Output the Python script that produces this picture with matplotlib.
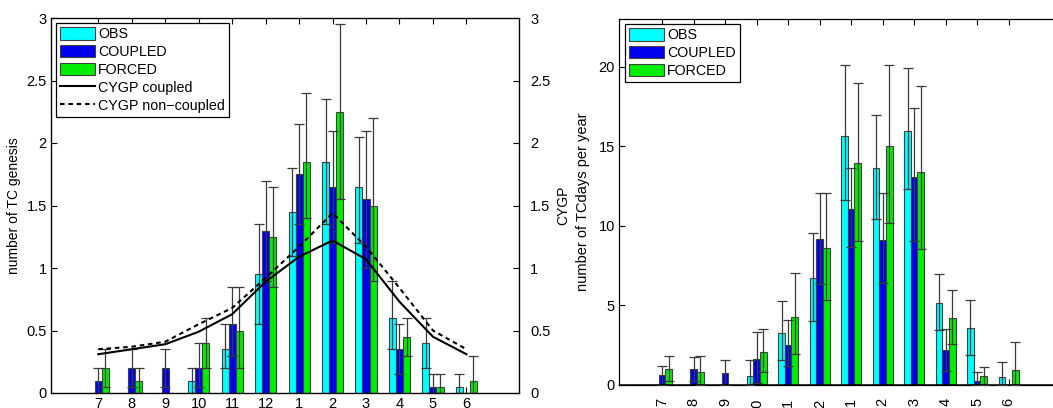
import numpy as np
import matplotlib
matplotlib.use("Agg")
import matplotlib.pyplot as plt

plt.rcParams['font.family'] = ['Liberation Sans', 'DejaVu Sans']
plt.rcParams['font.size'] = 10

months = ['7', '8', '9', '10', '11', '12', '1', '2', '3', '4', '5', '6']

# --- TC genesis (left panel) ---
gen_obs = [0, 0, 0, 0.1, 0.35, 0.95, 1.45, 1.85, 1.65, 0.6, 0.4, 0.05]
gen_obs_lo = [np.nan, np.nan, np.nan, 0.0, 0.2, 0.55, 1.1, 1.35, 1.2, 0.35, 0.2, 0.0]
gen_obs_hi = [np.nan, np.nan, np.nan, 0.2, 0.55, 1.35, 1.8, 2.35, 2.05, 0.9, 0.6, 0.15]

gen_cpl = [0.1, 0.2, 0.2, 0.2, 0.55, 1.3, 1.75, 1.65, 1.55, 0.35, 0.05, 0]
gen_cpl_lo = [0.0, 0.05, 0.05, 0.05, 0.3, 0.9, 1.35, 1.2, 1.0, 0.15, 0.0, np.nan]
gen_cpl_hi = [0.2, 0.35, 0.35, 0.4, 0.85, 1.7, 2.15, 2.1, 2.1, 0.55, 0.15, np.nan]

gen_frc = [0.2, 0.1, 0, 0.4, 0.5, 1.25, 1.85, 2.25, 1.5, 0.45, 0.05, 0.1]
gen_frc_lo = [0.05, 0.0, np.nan, 0.2, 0.2, 0.85, 1.4, 1.55, 0.9, 0.3, 0.0, 0.0]
gen_frc_hi = [0.35, 0.2, np.nan, 0.6, 0.85, 1.65, 2.4, 2.95, 2.2, 0.6, 0.15, 0.3]

cygp_coupled = [0.31, 0.35, 0.39, 0.49, 0.63, 0.89, 1.09, 1.22, 1.07, 0.73, 0.45, 0.31]
cygp_noncoupled = [0.35, 0.37, 0.41, 0.55, 0.68, 0.92, 1.17, 1.44, 1.17, 0.84, 0.50, 0.35]

# --- TC days (right panel) ---
days_obs = [0, 0, 0, 0.56, 3.28, 6.75, 15.65, 13.65, 15.97, 5.18, 3.57, 0.48]
days_obs_lo = [np.nan, np.nan, np.nan, 0.0, 1.6, 4.03, 11.64, 10.43, 12.33, 3.45, 1.88, 0.0]
days_obs_hi = [np.nan, np.nan, np.nan, 1.57, 5.29, 9.57, 20.1, 16.99, 19.94, 7.0, 5.37, 1.42]

days_cpl = [0.61, 1.0, 0.75, 1.61, 2.5, 9.17, 11.08, 9.13, 13.08, 2.17, 0.27, 0]
days_cpl_lo = [0.0, 0.27, 0.0, 0.15, 1.2, 6.37, 8.67, 6.44, 9.05, 0.9, 0.0, np.nan]
days_cpl_hi = [1.19, 1.76, 1.57, 3.32, 4.1, 12.08, 13.63, 12.08, 17.43, 3.49, 0.84, np.nan]

days_frc = [1.0, 0.84, 0, 2.05, 4.28, 8.59, 13.96, 15.03, 13.38, 4.18, 0.56, 0.92]
days_frc_lo = [0.27, 0.0, np.nan, 0.84, 1.94, 5.37, 9.03, 10.2, 8.53, 2.59, 0.0, 0.0]
days_frc_hi = [1.82, 1.84, np.nan, 3.51, 7.04, 12.08, 18.95, 20.1, 18.81, 6.0, 1.15, 2.72]

series_names = ['OBS', 'COUPLED', 'FORCED']
colors = ['#00ffff', '#0000ee', '#00ee00']
edge = '#404040'
errc = '#3a3a3a'

W, H = 1053, 408
fig = plt.figure(figsize=(W / 100, H / 100), dpi=100)

ax1 = fig.add_axes([51 / W, (H - 393) / H, (519 - 51) / W, (393 - 18) / H])
ax2 = fig.add_axes([619 / W, (H - 385) / H, (1059 - 619) / W, (385 - 19) / H])

x = np.arange(1, len(months) + 1)
bw = 0.21
offs = [-bw, 0, bw]


def draw_bars(ax, vals, los, his):
    handles = []
    for i, (v, lo, hi) in enumerate(zip(vals, los, his)):
        v = np.asarray(v, float)
        lo = np.asarray(lo, float)
        hi = np.asarray(hi, float)
        h = ax.bar(x + offs[i], v, width=bw, color=colors[i], edgecolor=edge,
                   linewidth=0.8, label=series_names[i], zorder=2)
        handles.append(h)
        m = ~np.isnan(hi)
        ax.errorbar(x[m] + offs[i], v[m], yerr=[v[m] - lo[m], hi[m] - v[m]],
                    fmt='none', ecolor=errc, elinewidth=0.9, capsize=3.3,
                    capthick=0.9, zorder=3)
    return handles


def style(ax):
    ax.tick_params(direction='in', length=4, width=0.8, top=True,
                   labelsize=10.5, pad=3)
    for s in ax.spines.values():
        s.set_linewidth(0.9)


# Left panel
hb = draw_bars(ax1, [gen_obs, gen_cpl, gen_frc],
               [gen_obs_lo, gen_cpl_lo, gen_frc_lo],
               [gen_obs_hi, gen_cpl_hi, gen_frc_hi])
ax1.set_xlim(-0.41, 13.57)
ax1.set_ylim(0, 3)
ax1.set_xticks(x)
ax1.set_xticklabels(months)
ax1.set_yticks(np.arange(0, 3.01, 0.5))
ax1.set_yticklabels(['0', '0.5', '1', '1.5', '2', '2.5', '3'])
ax1.set_ylabel('number of TC genesis', labelpad=4)
style(ax1)

ax1b = ax1.twinx()
ax1b.set_ylim(0, 3)
ax1b.set_yticks(np.arange(0, 3.01, 0.5))
ax1b.set_yticklabels(['0', '0.5', '1', '1.5', '2', '2.5', '3'])
ax1b.tick_params(direction='in', length=4, width=0.8, labelsize=10.5, pad=8)
ax1b.set_ylabel('CYGP', labelpad=4)
l1, = ax1b.plot(x, cygp_coupled, color='black', lw=1.5, label='CYGP coupled', zorder=4)
l2, = ax1b.plot(x, cygp_noncoupled, color='black', lw=1.5, linestyle=(0, (2.2, 1.8)),
                label='CYGP non\u2212coupled', zorder=4)

leg1 = ax1b.legend(hb + [l1, l2], series_names + ['CYGP coupled', 'CYGP non\u2212coupled'],
                   loc='upper left', bbox_to_anchor=(5 / 468, 1 - 5 / 375),
                   borderaxespad=0, fancybox=False, edgecolor='black',
                   framealpha=1, fontsize=10.3, handlelength=2.4, handleheight=0.95,
                   handletextpad=0.25, labelspacing=0.26, borderpad=0.3)
leg1.get_frame().set_linewidth(0.9)

# Right panel
hb2 = draw_bars(ax2, [days_obs, days_cpl, days_frc],
                [days_obs_lo, days_cpl_lo, days_frc_lo],
                [days_obs_hi, days_cpl_hi, days_frc_hi])
ax2.axhline(0, color='black', lw=1.8, zorder=5)
ax2.set_xlim(-0.37, 13.6)
ax2.set_ylim(0, 23)
ax2.set_xticks(x)
ax2.set_xticklabels(months, rotation=90)
ax2.set_yticks([0, 5, 10, 15, 20])
ax2.set_ylabel('number of TCdays per year', labelpad=6, fontsize=10.5)
style(ax2)
ax2.tick_params(axis='x', pad=9)
leg2 = ax2.legend(hb2, series_names, loc='upper left',
                  bbox_to_anchor=(6 / 440, 1 - 5 / 366), borderaxespad=0,
                  fancybox=False, edgecolor='black', framealpha=1, fontsize=10.3,
                  handlelength=2.4, handleheight=0.95, handletextpad=0.25,
                  labelspacing=0.26, borderpad=0.3)
leg2.get_frame().set_linewidth(0.9)

fig.savefig('out.png', dpi=100)
